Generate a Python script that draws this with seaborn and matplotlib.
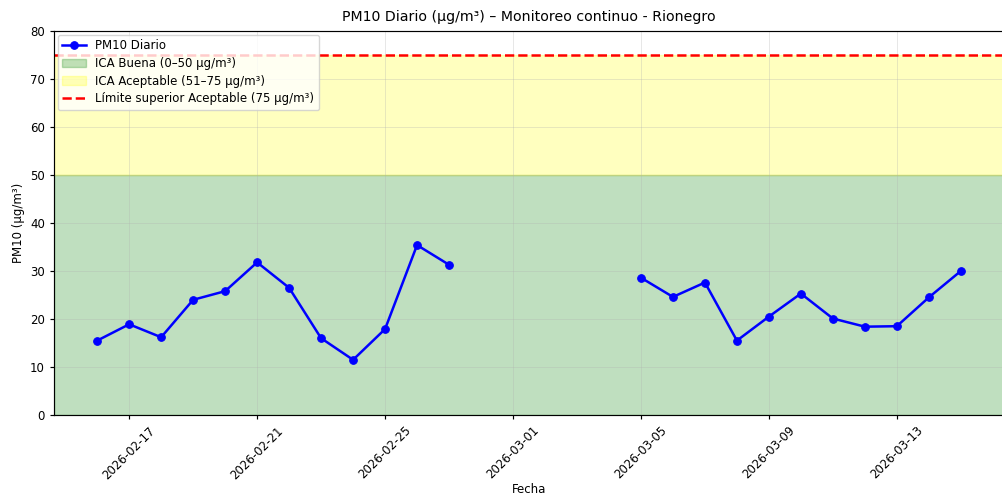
import numpy as np
import pandas as pd
import matplotlib
matplotlib.use("Agg")
import matplotlib.pyplot as plt
import seaborn as sns

# --- Datos diarios PM10 (None = sin dato) ---
fechas = pd.date_range("2026-02-16", "2026-03-15", freq="D")
pm10 = [15.5, 18.9, 16.2, 24.0, 25.8, 31.8, 26.5, 16.0, 11.5, 17.9, 35.4, 31.3,
        None, None, None, None, None,
        28.6, 24.6, 27.6, 15.5, 20.5, 25.3, 20.1, 18.4, 18.5, 24.5, 30.0]

limite_buena = 50
limite_aceptable = 75

df = pd.DataFrame({"fecha": fechas, "pm10": pm10})
df["pm10"] = pd.to_numeric(df["pm10"])
# tramos continuos (para dejar el hueco sin datos)
df["tramo"] = df["pm10"].isna().cumsum()
df = df.dropna()

# la imagen original viene reducida (~0.85), asi que todo un poco mas chico
plt.rcParams.update({
    "font.size": 8.5,
    "axes.titlesize": 10.2,
    "axes.labelsize": 8.5,
    "xtick.labelsize": 8.5,
    "ytick.labelsize": 8.5,
    "legend.fontsize": 8.5,
    "axes.linewidth": 0.85,
    "xtick.major.width": 0.85,
    "ytick.major.width": 0.85,
    "xtick.major.size": 3,
    "ytick.major.size": 3,
})

fig = plt.figure(figsize=(10.03, 4.98), dpi=100)
ax = fig.add_axes([54 / 1003, 1 - 415 / 498, 950 / 1003, 384 / 498])

primero = True
for _, tramo in df.groupby("tramo"):
    sns.lineplot(data=tramo, x="fecha", y="pm10", ax=ax, color="blue",
                 marker="o", markersize=5.5, markeredgecolor="blue", linewidth=1.8,
                 label="PM10 Diario" if primero else None, legend=False)
    primero = False

ax.axhspan(0, limite_buena, color="green", alpha=0.25, label="ICA Buena (0–50 µg/m³)")
ax.axhspan(limite_buena, limite_aceptable, color="yellow", alpha=0.25,
           label="ICA Aceptable (51–75 µg/m³)")
ax.axhline(limite_aceptable, color="red", linestyle="--", linewidth=1.8,
           label="Límite superior Aceptable (75 µg/m³)")

ax.set_ylim(0, 80)
ax.set_title("PM10 Diario (µg/m³) – Monitoreo continuo - Rionegro", pad=7)
ax.set_xlabel("Fecha", labelpad=1)
ax.set_ylabel("PM10 (µg/m³)")
ax.grid(True, alpha=0.3, linewidth=0.7)
ax.legend(loc="upper left", borderaxespad=0.3, labelspacing=0.4)
plt.setp(ax.get_xticklabels(), rotation=45)

fig.savefig("out.png", dpi=100)
